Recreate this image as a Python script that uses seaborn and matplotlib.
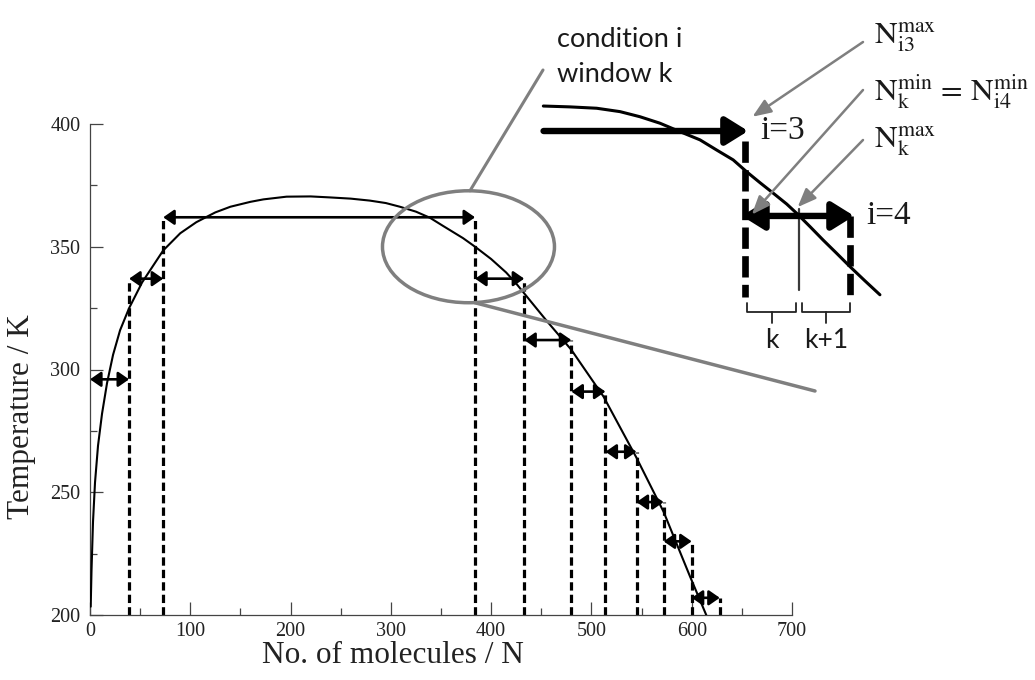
import matplotlib
matplotlib.use("Agg")
import matplotlib.pyplot as plt
import pandas as pd
import seaborn as sns
from matplotlib.patches import Ellipse, ConnectionPatch
from matplotlib.ticker import MultipleLocator

# Temperature along the curve as a function of the number of molecules
curve_n = [0.7, 1.5, 3, 5, 8, 12, 17, 23, 30, 39, 52, 73, 90, 106, 125, 140, 160,
           173, 196, 220, 239, 260, 279, 295, 309, 325, 339, 352, 372, 384, 400,
           415, 425, 435, 455, 480, 512, 545, 572, 598, 615]
curve_t = [203.4, 218, 238, 254, 269, 282, 294.5, 306, 316, 325, 335.5, 348.5,
           355.5, 360, 364, 366.3, 368.3, 369.3, 370.4, 370.5, 370.1, 369.6, 368.8,
           367.8, 366.3, 364.3, 361.8, 358.5, 353.5, 350, 345, 339.5, 335, 330, 320,
           308, 289, 264, 242, 216, 199.5]

# Window boundaries in N and the temperature of each condition
bounds = [0, 39, 73, 384, 433, 480, 514, 545, 572, 600, 628]
cond_t = [296, 337, 362, 337, 312, 291, 266.5, 246, 230, 207]

x_ticks = [0, 100, 200, 300, 400, 500, 600, 700]
y_ticks = [200, 250, 300, 350, 400]

# Circled region: condition i, window k
focus_center = (377.4, 350.0)
focus_size = (171.5, 45.6)

# Magnified sketch of the circled region
inset_n = [289.9, 302.3, 314.8, 325.7, 335.0, 344.3, 353.7, 363.0, 370.8, 378.5,
           384.8, 391.0, 397.2, 403.5, 408.1, 414.3, 420.5, 426.8, 433.0, 440.0, 447.0]
inset_t = [369.35, 369.1, 368.7, 367.7, 366.2, 364.3, 361.8, 359.4, 356.4, 353.5,
           350.0, 346.8, 343.7, 340.5, 337.8, 333.9, 329.9, 326.0, 322.1, 317.9, 313.8]
window_split = 409

sns.set_theme(style="ticks")
plt.rcParams["font.family"] = ["Liberation Serif", "DejaVu Serif"]
plt.rcParams["mathtext.fontset"] = "stix"

W, H = 1035, 680
fig = plt.figure(figsize=(W / 100, H / 100), dpi=100)
fig.patch.set_facecolor("white")


def px_rect(left, top, right, bottom):
    return [left / W, 1 - bottom / H, (right - left) / W, (bottom - top) / H]


ax = fig.add_axes(px_rect(90, 124, 792, 615))
ax.set_facecolor("none")

df = pd.DataFrame({"N": curve_n, "T": curve_t})
sns.lineplot(data=df, x="N", y="T", sort=False, estimator=None,
             color="black", lw=1.5, ax=ax, zorder=3)

# dashed window boundaries
for j in range(1, len(bounds)):
    tops = [cond_t[j - 1]] + ([cond_t[j]] if j < len(cond_t) else [])
    ax.plot([bounds[j], bounds[j]], [200, max(tops)], color="black", lw=2.3,
            ls=(0, (2.6, 1.3)), solid_capstyle="butt", zorder=2)

# double-headed arrows spanning each condition
for i, t in enumerate(cond_t):
    ax.annotate("", xy=(bounds[i + 1], t), xytext=(bounds[i], t),
                arrowprops=dict(arrowstyle="<|-|>,head_length=0.36,head_width=0.25",
                                mutation_scale=18, lw=1.9, color="black",
                                shrinkA=0, shrinkB=0), zorder=4)

ax.set_xlim(0, 700)
ax.set_ylim(200, 400)
ax.set_xticks(x_ticks)
ax.set_yticks(y_ticks)
ax.xaxis.set_minor_locator(MultipleLocator(50))
ax.yaxis.set_minor_locator(MultipleLocator(25))
ax.tick_params(which="major", direction="in", length=9.5, width=0.9, color="#444444",
               labelsize=14.5, labelcolor="#222222")
ax.tick_params(which="minor", direction="in", length=5, width=0.9, color="#444444")
ax.tick_params(axis="x", pad=5)
ax.tick_params(axis="y", pad=7)
for s in ("top", "right"):
    ax.spines[s].set_visible(False)
for s in ("left", "bottom"):
    ax.spines[s].set_color("#444444")
    ax.spines[s].set_linewidth(0.9)

ax.set_xlabel("No. of molecules / N", fontsize=22.5, color="#222222")
ax.set_ylabel("Temperature / K", fontsize=22.5, color="#222222")
ax.xaxis.set_label_coords(0.432, -0.0815)
ax.xaxis.label.set_va("center")
ax.yaxis.set_label_coords(-0.097, 0.405)
ax.yaxis.label.set_va("center")

# circled region and its connecting lines
grey = "#7f7f7f"
ax.add_patch(Ellipse(focus_center, focus_size[0], focus_size[1], fill=False,
                     ec=grey, lw=2.5, zorder=5))
top_pt = (focus_center[0] + 1.5, focus_center[1] + focus_size[1] / 2)
bot_pt = (focus_center[0] + 6.4, focus_center[1] - focus_size[1] / 2)
fig.add_artist(ConnectionPatch(xyA=top_pt, coordsA=ax.transData,
                               xyB=(543, H - 70), coordsB="figure pixels",
                               color=grey, lw=2.2))
fig.add_artist(ConnectionPatch(xyA=bot_pt, coordsA=ax.transData,
                               xyB=(815, H - 391), coordsB="figure pixels",
                               color=grey, lw=2.5))

fig.text(557 / W, 1 - 47 / H, "condition i", fontsize=19.5, family="Lato",
         color="#1a1a1a", va="baseline")
fig.text(557 / W, 1 - 82 / H, "window k", fontsize=19.5, family="Lato",
         color="#1a1a1a", va="baseline")

# magnified sketch
axi = fig.add_axes(px_rect(540, 60, 890, 360))
axi.set_xlim(288.34, 451.7)
axi.set_ylim(294.6, 382.9)
axi.axis("off")
axi.patch.set_alpha(0)

sns.lineplot(x=inset_n, y=inset_t, sort=False, estimator=None, color="black",
             lw=2.2, ax=axi, zorder=3)

bottom_t = 313.2
axi.plot([bounds[3], bounds[3]], [cond_t[2] - 3, bottom_t], color="black", lw=4.8,
         ls=(0, (3.2, 1.1)), solid_capstyle="butt", zorder=2)
axi.plot([bounds[4], bounds[4]], [cond_t[3], bottom_t], color="black", lw=4.8,
         ls=(0, (3.2, 1.1)), solid_capstyle="butt", zorder=2)
axi.plot([window_split, window_split], [cond_t[3] + 2, 315.2], color="#3a3a3a",
         lw=1.6, zorder=2)

axi.annotate("", xy=(bounds[3] + 1.5, cond_t[2]), xytext=(290, cond_t[2]),
             arrowprops=dict(arrowstyle="-|>,head_length=0.45,head_width=0.28",
                             mutation_scale=30, lw=4.6, color="black",
                             shrinkA=0, shrinkB=0), zorder=4)
axi.annotate("", xy=(bounds[4] + 2, cond_t[3]), xytext=(bounds[3] - 1.5, cond_t[3]),
             arrowprops=dict(arrowstyle="<|-|>,head_length=0.45,head_width=0.28",
                             mutation_scale=30, lw=4.6, color="black",
                             shrinkA=0, shrinkB=0), zorder=4)

axi.text(bounds[3] + 7, cond_t[2], "i=3", fontsize=24, va="center", ha="left",
         color="#1a1a1a")
axi.text(bounds[4] + 7.5, cond_t[3], "i=4", fontsize=24, va="center", ha="left",
         color="#1a1a1a")

# braces under the two windows
for x0, x1, lab in ((bounds[3] + 1, window_split - 1, "k"),
                    (window_split + 1.5, bounds[4], "k+1")):
    xm = (x0 + x1) / 2
    axi.plot([x0, x0, x1, x1], [311.4, 308.6, 308.6, 311.4], color="#222222",
             lw=1.3, clip_on=False)
    axi.plot([xm, xm], [308.6, 305.6], color="#222222", lw=1.3, clip_on=False)
    axi.text(xm, 300.3, lab, fontsize=19, family="Lato", ha="center", va="center",
             color="#1a1a1a", clip_on=False)

# labelled boundary values with grey pointers
labels = [
    (r"$\mathrm{N}_{\mathrm{i3}}^{\mathrm{max}}$", 43, (863, 42),
     (bounds[3] + 3.5, cond_t[2] + 4.2)),
    (r"$\mathrm{N}_{\mathrm{k}}^{\mathrm{min}}\,=\,\mathrm{N}_{\mathrm{i4}}^{\mathrm{min}}$",
     100, (863, 90), (bounds[3] + 3.2, cond_t[3] + 0.4)),
    (r"$\mathrm{N}_{\mathrm{k}}^{\mathrm{max}}$", 147, (863, 140),
     (window_split - 0.4, cond_t[3] + 2.6)),
]
for text, base_y, start, target in labels:
    fig.text(874 / W, 1 - base_y / H, text, fontsize=22.5, va="baseline", ha="left",
             color="#1a1a1a")
    axi.annotate("", xy=target, xycoords="data", xytext=(start[0], H - start[1]),
                 textcoords="figure pixels",
                 arrowprops=dict(arrowstyle="-|>,head_length=0.7,head_width=0.28",
                                 mutation_scale=16, lw=1.8, color=grey,
                                 shrinkA=0, shrinkB=0),
                 annotation_clip=False, zorder=5)

fig.savefig("out.png", dpi=100)
